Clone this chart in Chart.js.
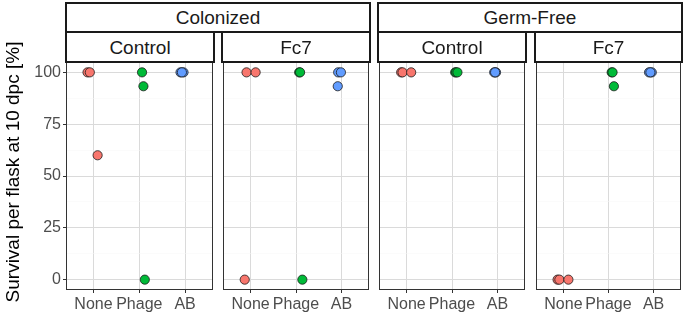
<!DOCTYPE html>
<html><head><meta charset="utf-8">
<script src="https://cdn.jsdelivr.net/npm/chart.js@4.4.1/dist/chart.umd.min.js"></script>
<style>
html,body{margin:0;padding:0;background:#fff;}
#wrap{position:relative;width:685px;height:314px;overflow:hidden;font-family:"Liberation Sans",Arial,sans-serif;}
canvas{position:absolute;top:0;}
.strip{position:absolute;box-sizing:border-box;border:2px solid #1a1a1a;background:#fff;color:#1a1a1a;font-size:19px;display:flex;align-items:center;justify-content:center;line-height:1;}
</style></head>
<body>
<div id="wrap">
  <canvas id="p1" width="218" height="314" style="left:0px"></canvas>
  <canvas id="p2" width="156" height="314" style="left:218px"></canvas>
  <canvas id="p3" width="156" height="314" style="left:374px"></canvas>
  <canvas id="p4" width="155" height="314" style="left:531px"></canvas>
  <div class="strip" id="s-out-0" style="left:65px;top:2px;width:306px;height:31px;"></div>
  <div class="strip" id="s-out-1" style="left:377px;top:2px;width:306px;height:31px;"></div>
  <div class="strip" id="s-in-0" style="left:65px;top:31px;width:150px;height:32px;"></div>
  <div class="strip" id="s-in-1" style="left:221px;top:31px;width:150px;height:32px;"></div>
  <div class="strip" id="s-in-2" style="left:377px;top:31px;width:150px;height:32px;"></div>
  <div class="strip" id="s-in-3" style="left:534px;top:31px;width:149px;height:32px;"></div>
</div>
<script>
// ---- data ----
const treatments = ["None", "Phage", "AB"];
const colonization = ["Colonized", "Germ-Free"];
const conditions = ["Control", "Fc7", "Control", "Fc7"];
const yTickValues = [0, 25, 50, 75, 100];
const yAxisTitle = "Survival per flask at 10 dpc [%]";

// survival per flask (%), rows = None, Phage, AB
const colonizedControl = [[100, 100, 60], [100, 93.3, 0], [100, 100, 100]];
const colonizedFc7     = [[100, 100, 0], [100, 100, 0], [100, 100, 93.3]];
const germFreeControl  = [[100, 100, 100], [100, 100, 100], [100, 100, 100]];
const germFreeFc7      = [[0, 0, 0], [100, 100, 93.3], [100, 100, 100]];

// horizontal jitter (category units)
const colonizedControlJitter = [[-0.13, -0.08, 0.09], [0.06, 0.09, 0.12], [-0.10, -0.035, -0.07]];
const colonizedFc7Jitter     = [[-0.09, 0.11, -0.13], [0.07, 0.09, 0.14], [-0.07, -0.01, -0.08]];
const germFreeControlJitter  = [[-0.12, -0.09, 0.10], [0.07, 0.09, 0.12], [-0.07, -0.03, -0.05]];
const germFreeFc7Jitter      = [[-0.13, -0.09, 0.11], [0.07, 0.09, 0.12], [-0.10, -0.04, -0.07]];

// ---- styles ----
const colors = ["#F8766D", "#00BA38", "#619CFF"];
const FONT = '"Liberation Sans", Arial, sans-serif';

document.getElementById("s-out-0").textContent = colonization[0];
document.getElementById("s-out-1").textContent = colonization[1];
conditions.forEach((c, i) => document.getElementById("s-in-" + i).textContent = c);

const borderPlugin = {
  id: "panelBorder",
  afterDraw(chart) {
    const a = chart.chartArea, ctx = chart.ctx;
    ctx.save();
    ctx.strokeStyle = "#333333";
    ctx.lineWidth = 1;
    ctx.strokeRect(Math.round(a.left) + 0.5, Math.round(a.top) + 0.5,
                   Math.round(a.right) - Math.round(a.left) - 1, Math.round(a.bottom) - Math.round(a.top) - 1);
    ctx.restore();
  }
};

const yTitlePlugin = {
  id: "yTitle",
  afterDraw(chart) {
    const ctx = chart.ctx;
    ctx.save();
    ctx.translate(14, 172);
    ctx.rotate(-Math.PI / 2);
    ctx.fillStyle = "#000000";
    ctx.font = "19px " + FONT;
    ctx.textAlign = "center";
    ctx.textBaseline = "middle";
    ctx.fillText(yAxisTitle, 0, 0);
    ctx.restore();
  }
};

const minorY = [12.5, 37.5, 62.5, 87.5];

function makePanel(id, values, jitter, showY, padL, padR) {
  const datasets = treatments.map((t, ti) => ({
    label: t,
    data: values[ti].map((v, i) => ({ x: ti + 1 + jitter[ti][i], y: v })),
    backgroundColor: colors[ti],
    borderColor: "#1a1a1a",
    borderWidth: 0.8,
    pointRadius: 4.6,
    clip: false
  }));
  return new Chart(document.getElementById(id), {
    type: "scatter",
    data: { datasets },
    options: {
      responsive: false,
      animation: false,
      events: [],
      layout: { padding: { top: 62, bottom: 0, left: padL, right: padR } },
      plugins: { legend: { display: false }, tooltip: { enabled: false } },
      scales: {
        x: {
          type: "linear", min: 0.4, max: 3.6,
          afterBuildTicks: s => { s.ticks = treatments.map((t, i) => ({ value: i + 1 })); },
          afterFit: s => { s.height = 24; },
          border: { display: false },
          grid: { color: "#DADADA", lineWidth: 1, tickLength: 3, tickColor: "#333333", drawTicks: true },
          ticks: {
            autoSkip: false, maxRotation: 0, padding: 2, color: "#4D4D4D",
            font: { family: FONT, size: 16 },
            callback: v => treatments[Math.round(v) - 1]
          }
        },
        y: {
          min: -5, max: 105,
          afterBuildTicks: s => {
            s.ticks = yTickValues.concat(minorY).sort((a, b) => a - b).map(v => ({ value: v }));
          },
          afterFit: s => { s.width = showY ? 66 : 0; },
          border: { display: false },
          grid: {
            color: c => (c.tick && yTickValues.includes(c.tick.value)) ? "#DADADA" : "#F6F6F6",
            lineWidth: c => (c.tick && yTickValues.includes(c.tick.value)) ? 1 : 0.5,
            drawTicks: showY, tickLength: 3,
            tickColor: c => (c.tick && yTickValues.includes(c.tick.value)) ? "#333333" : "rgba(0,0,0,0)"
          },
          ticks: {
            display: showY, padding: 2, color: "#4D4D4D",
            font: { family: FONT, size: 16 },
            callback: v => yTickValues.includes(v) ? String(v) : ""
          },
          title: { display: false }
        }
      }
    },
    plugins: showY ? [borderPlugin, yTitlePlugin] : [borderPlugin]
  });
}

makePanel("p1", colonizedControl, colonizedControlJitter, true, 0, 4);
makePanel("p2", colonizedFc7, colonizedFc7Jitter, false, 4, 4);
makePanel("p3", germFreeControl, germFreeControlJitter, false, 4, 4);
makePanel("p4", germFreeFc7, germFreeFc7Jitter, false, 4, 3);
</script>
</body></html>
